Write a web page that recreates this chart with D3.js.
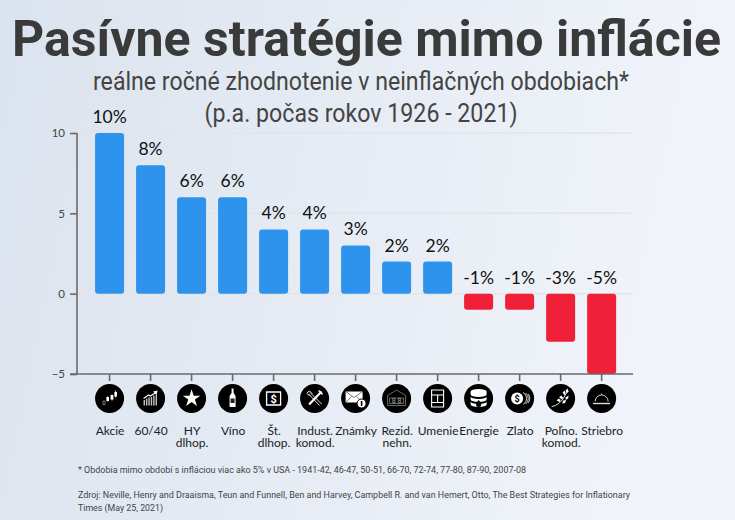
<!DOCTYPE html>
<html>
<head>
<meta charset="utf-8">
<script src="https://cdn.jsdelivr.net/npm/d3@7"></script>
<style>
html, body { margin: 0; padding: 0; overflow: hidden; }
text { font-family: Roboto, sans-serif; }
</style>
</head>
<body>
<svg width="735" height="520"></svg>
<script>
var categories = ["Akcie", "60/40", "HY|dlhop.", "Víno", "Št.|dlhop.", "Indust.|komod.", "Známky", "Rezid.|nehn.", "Umenie", "Energie", "Zlato", "Poľno.|komod.", "Striebro"]
var values = [10, 8, 6, 6, 4, 4, 3, 2, 2, -1, -1, -3, -5]
var valueLabels = ["10%", "8%", "6%", "6%", "4%", "4%", "3%", "2%", "2%", "-1%", "-1%", "-3%", "-5%"]
var yTicks = [-5, 0, 5, 10]
var footnotes = [
    "* Obdobia mimo období s infláciou viac ako 5% v USA - 1941-42, 46-47, 50-51, 66-70,  72-74, 77-80, 87-90, 2007-08",
    "Zdroj: Neville, Henry and Draaisma, Teun and Funnell, Ben and Harvey, Campbell R. and van Hemert, Otto, The Best Strategies for Inflationary",
    "Times (May 25, 2021)"
]

var svg = d3.select("svg")

var defs = svg.append("defs")
var grad = defs.append("linearGradient").attr("id", "bg").attr("x1", "0").attr("y1", "0").attr("x2", "1").attr("y2", "0.15")
grad.append("stop").attr("offset", "0").attr("stop-color", "#dbe3ee")
grad.append("stop").attr("offset", "1").attr("stop-color", "#f1f4fa")
svg.append("rect").attr("width", 735).attr("height", 520).attr("fill", "url(#bg)")

// titles
svg.append("text").attr("x", 366.5).attr("y", 56).attr("text-anchor", "middle")
    .attr("font-size", 50).attr("font-weight", 700).attr("fill", "#3a3a3a")
    .attr("textLength", 709).attr("lengthAdjust", "spacingAndGlyphs")
    .text("Pasívne stratégie mimo inflácie")
svg.append("text").attr("x", 361).attr("y", 90).attr("text-anchor", "middle")
    .attr("font-size", 25).attr("fill", "#444")
    .attr("textLength", 536).attr("lengthAdjust", "spacingAndGlyphs")
    .text("reálne ročné zhodnotenie v neinflačných obdobiach*")
svg.append("text").attr("x", 361).attr("y", 122).attr("text-anchor", "middle")
    .attr("font-size", 25).attr("fill", "#444")
    .attr("textLength", 313).attr("lengthAdjust", "spacingAndGlyphs")
    .text("(p.a. počas rokov 1926 - 2021)")

var x = d3.scaleBand()
    .domain(categories)
    .range([77.6, 633.6])
    .paddingInner(0.2927)
    .paddingOuter(0.426)

var y = d3.scaleLinear()
    .domain([-5, 10])
    .range([374, 133])

// grid
svg.append("g").selectAll("line")
    .data(yTicks.filter(function(d) { return d > -5 }))
    .enter().append("line")
    .attr("x1", 77).attr("x2", 633)
    .attr("y1", function(d) { return y(d) }).attr("y2", function(d) { return y(d) })
    .attr("stroke", "#e2e4e9").attr("stroke-width", 1.5)

// bars
svg.append("g").selectAll("rect")
    .data(values)
    .enter().append("rect")
    .attr("x", function(d, i) { return x(categories[i]) })
    .attr("y", function(d) { return y(Math.max(d, 0)) })
    .attr("width", x.bandwidth())
    .attr("height", function(d) { return Math.abs(y(d) - y(0)) })
    .attr("rx", 3)
    .attr("fill", function(d) { return d < 0 ? "#f02039" : "#2e93ec" })

// axes
var yAxis = svg.append("g").attr("transform", "translate(77,0)")
    .call(d3.axisLeft(y).tickValues(yTicks).tickSize(7).tickPadding(5))
yAxis.selectAll("path, line").attr("stroke", "#6a6a6a").attr("stroke-width", 1.6)
yAxis.select(".domain").attr("d", "M0," + y(10) + "V" + y(-5))
yAxis.selectAll("text").attr("font-size", 11.5).style("font-family", "Lato").attr("fill", "#444")

var xAxis = svg.append("g").attr("transform", "translate(0,374)")
    .call(d3.axisBottom(x).tickSize(7).tickFormat(""))
xAxis.selectAll("path, line").attr("stroke", "#6a6a6a").attr("stroke-width", 1.6)
xAxis.select(".domain").attr("d", "M70,0H633")

// value labels
svg.append("g").selectAll("text")
    .data(values)
    .enter().append("text")
    .attr("x", function(d, i) { return x(categories[i]) + x.bandwidth() / 2 })
    .attr("y", function(d) { return y(Math.max(d, 0)) - 10 })
    .attr("text-anchor", "middle")
    .style("font-family", "Lato")
    .attr("font-size", 17.5).attr("fill", "#111")
    .text(function(d, i) { return valueLabels[i] })

// icons
function line(g, d, w, c) {
    g.append("path").attr("d", d).attr("fill", "none").attr("stroke", c || "#fff").attr("stroke-width", w || 1)
}
function fill(g, d, c) {
    g.append("path").attr("d", d).attr("fill", c || "#fff")
}
var icons = [
    function(g) { // Akcie
        line(g, "M-6.5,2.5h2v3.5h-2z", 0.6, "#bbb")
        line(g, "M-2,-2V3 M2.5,-4V2 M6,-8V-1", 0.8)
        fill(g, "M-3.2,-1.5h2.6v4h-2.6z M1,-3.5h2.8v4.5h-2.8z M4.8,-6.5h2.6v4.5h-2.6z")
    },
    function(g) { // 60/40
        fill(g, "M-7,7V1.5H-5.6V7Z M-4.6,7V0H-3.2V7Z M-2.2,7V-1H-.8V7Z M.2,7V-1.5H1.6V7Z M2.6,7V-3H4V7Z M5,7V-4H6.4V7Z", "#c4c4c4")
        line(g, "M-7,0L-2,-3.5L0,-2.5L5,-6", 1.1)
        fill(g, "M7,-8L2.5,-7L6,-3.5Z")
    },
    function(g) { // HY dlhop.
        fill(g, d3.symbol().type(d3.symbolStar).size(95)())
    },
    function(g) { // Vino
        fill(g, "M-1,-10h2v4.5l2,3v11h-6v-11l2,-3z")
        g.append("rect").attr("x", -2).attr("y", 0).attr("width", 4).attr("height", 4.5).attr("fill", "#222")
    },
    function(g) { // St. dlhop.
        line(g, "M-7,-6.5H7V6.5H-7Z", 1.3)
        g.append("text").attr("text-anchor", "middle").attr("y", 4).attr("font-size", 11).attr("font-weight", 700).attr("fill", "#fff").text("$")
    },
    function(g) { // Indust. komod.
        line(g, "M-6,-4.5L5,7 M-4.5,-6L7,5.5 M-5,-2.5L-7.5,-5A3.5,3.5 0 0 1 -5,-7.5L-2.5,-5", 0.9)
        line(g, "M7,-7L-5.5,6", 2.2)
        line(g, "M4,-8L8,-4", 1.4)
    },
    function(g) { // Znamky
        fill(g, "M-10,-7H7V4H-10Z")
        line(g, "M-10,-7L-1.5,-1L7,-7 M-10,4L-4,-2 M7,4L1,-2", 0.7, "#444")
        g.append("circle").attr("cx", 6).attr("cy", 5).attr("r", 4.5).attr("fill", "#fff").attr("stroke", "#000").attr("stroke-width", 1)
        g.append("rect").attr("x", 5.2).attr("y", 2.5).attr("width", 1.6).attr("height", 5).attr("fill", "#000")
    },
    function(g) { // Rezid. nehn.
        line(g, "M-9,-3L0,-8.5L9,-3V7H-9Z M-7,-.5H7V5H-7Z", 0.7, "#999")
        g.append("text").attr("text-anchor", "middle").attr("y", 4.5).attr("font-size", 7).attr("fill", "#aaa").text("8 8")
    },
    function(g) { // Umenie
        line(g, "M-6,-8.5H6V8.5H-6Z M-6,-3.5H6 M-6,4H6 M0,-3.5V4", 1.1)
    },
    function(g) { // Energie
        fill(g, "M-8,-7A8,2.6 0 0 1 8,-7V-4A8,2.6 0 0 1 -8,-4Z M-8,-2A8,2.6 0 0 0 8,-2V1A8,2.6 0 0 1 -8,1Z M-8,3A8,2.6 0 0 0 8,3V6A8,2.6 0 0 1 -8,6Z")
        fill(g, "M0,1.5C-2,4 -2.5,5 -2.5,6A2.5,2.5 0 0 0 2.5,6C2.5,5 2,4 0,1.5Z", "#000")
    },
    function(g) { // Zlato
        g.append("circle").attr("cx", -2.5).attr("r", 6).attr("fill", "#fff")
        g.append("text").attr("x", -2.5).attr("y", 3.5).attr("text-anchor", "middle").attr("font-size", 9).attr("font-weight", 700).attr("fill", "#000").text("$")
        line(g, "M3.5,-6A7,7 0 0 1 3.5,6 M6,-5.5A7,7 0 0 1 6,5.5 M8.5,-4.5A7,7 0 0 1 8.5,4.5", 0.8)
    },
    function(g) { // Polno. komod.
        line(g, "M-9,8C-4,7.5 2,3 6,-6", 0.9)
        fill(g, "M4,-3l-2,-3l2,-2l1,2z M6,-5l-1,-3l2,-2l1,3z M1.5,1l-3,-2l2,-2l2,2z M5,-1l3,-2l-.5,3l-2.5,1.5z M-1,3.5l-3,-1.5l2,-2l2,1.5z M2.5,2l3,-.5l-1,3l-3,.5z")
    },
    function(g) { // Striebro
        line(g, "M-6.5,3A6.5,6.5 0 0 1 6.5,3 M0,-3.5V-5", 0.9, "#ddd")
        line(g, "M-8.5,5H8.5", 1.4, "#ddd")
    }
]

var iconG = svg.append("g").selectAll("g")
    .data(categories)
    .enter().append("g")
    .attr("transform", function(d) { return "translate(" + (x(d) + x.bandwidth() / 2) + ",398.5)" })
iconG.append("circle").attr("r", 14.5).attr("fill", "#000")
iconG.each(function(d, i) { icons[i](d3.select(this).append("g")) })

// category labels
var labels = svg.append("g").selectAll("text")
    .data(categories)
    .enter().append("text")
    .attr("text-anchor", "middle")
    .attr("font-size", 12).attr("fill", "#222")
    .style("font-family", "Lato")
labels.selectAll("tspan")
    .data(function(d) { return d.split("|").map(function(t) { return { t: t, c: d } }) })
    .enter().append("tspan")
    .attr("x", function(d) { return x(d.c) + x.bandwidth() / 2 + 0.5 })
    .attr("y", function(d, i) { return 435 + i * 12 })
    .text(function(d) { return d.t })

// footnotes
var footY = [473, 498, 511]
var footW = [448, 552, 85]
svg.append("g").selectAll("text")
    .data(footnotes)
    .enter().append("text")
    .attr("x", 78).attr("y", function(d, i) { return footY[i] })
    .attr("font-size", 9.6).attr("fill", "#444")
    .attr("textLength", function(d, i) { return footW[i] }).attr("lengthAdjust", "spacingAndGlyphs")
    .text(function(d) { return d })
</script>
</body>
</html>
